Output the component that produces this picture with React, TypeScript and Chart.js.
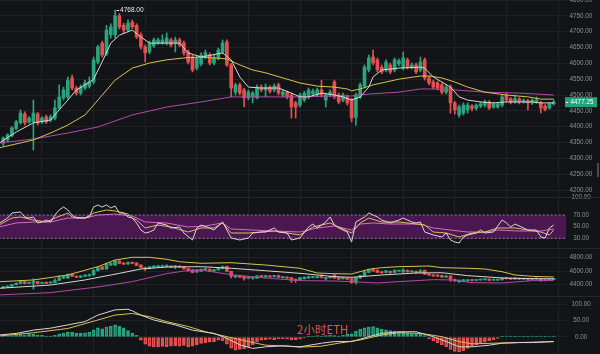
import { useEffect, useRef } from "react";
import { Chart, registerables } from "chart.js";

Chart.register(...registerables);

// ---------- DATA ----------
const opens = [4348,4358,4372,4394,4412,4440,4415,4415,4440,4415,4431,4421,4427,4459,4491,4494,4554,4522,4506,4522,4528,4541,4604,4664,4630,4690,4690,4750,4720,4705,4730,4720,4690,4652,4636,4655,4664,4664,4664,4674,4664,4674,4664,4636,4620,4585,4598,4620,4626,4601,4617,4636,4668,4595,4509,4532,4516,4491,4494,4491,4525,4516,4525,4516,4532,4500,4509,4500,4475,4468,4484,4494,4503,4500,4516,4484,4500,4541,4500,4484,4494,4484,4430,4494,4528,4579,4620,4611,4588,4579,4595,4579,4598,4585,4611,4588,4595,4579,4611,4554,4541,4538,4532,4509,4525,4475,4437,4443,4453,4465,4458,4465,4468,4478,4462,4462,4468,4500,4488,4478,4488,4478,4482,4475,4478,4475,4465,4459,4472];
const highs = [4368,4378,4400,4420,4453,4447,4432,4484,4445,4432,4437,4437,4484,4532,4525,4557,4563,4528,4532,4547,4557,4620,4658,4670,4720,4725,4768,4757,4727,4737,4737,4725,4696,4658,4670,4680,4680,4690,4696,4680,4683,4680,4670,4642,4626,4623,4633,4642,4633,4626,4648,4674,4674,4600,4538,4538,4522,4516,4512,4532,4532,4535,4530,4535,4538,4516,4512,4506,4480,4506,4512,4522,4519,4522,4547,4506,4516,4547,4506,4506,4500,4490,4506,4538,4595,4626,4642,4617,4595,4611,4601,4617,4614,4636,4617,4601,4601,4620,4617,4560,4547,4544,4538,4532,4532,4480,4468,4475,4475,4470,4472,4478,4484,4482,4476,4476,4500,4506,4492,4500,4492,4488,4486,4488,4494,4480,4470,4476,4484];
const lows = [4340,4352,4368,4390,4408,4405,4410,4326,4405,4410,4410,4415,4421,4453,4484,4488,4516,4500,4500,4516,4522,4535,4598,4620,4625,4680,4680,4708,4695,4700,4710,4678,4645,4604,4630,4650,4660,4660,4658,4652,4636,4652,4626,4598,4573,4579,4592,4614,4595,4595,4611,4630,4590,4494,4500,4500,4462,4485,4475,4488,4510,4494,4506,4510,4500,4494,4488,4427,4427,4462,4478,4488,4497,4494,4494,4462,4494,4488,4472,4478,4468,4415,4405,4488,4522,4573,4595,4573,4567,4573,4567,4573,4592,4579,4582,4582,4567,4573,4547,4532,4519,4516,4503,4503,4443,4440,4430,4437,4443,4450,4452,4460,4462,4454,4458,4458,4462,4478,4472,4474,4472,4474,4453,4470,4474,4443,4450,4455,4468];
const closes = [4364,4374,4396,4415,4443,4412,4427,4443,4412,4427,4415,4431,4459,4494,4516,4547,4522,4506,4525,4538,4541,4611,4652,4626,4705,4715,4750,4715,4705,4727,4715,4683,4652,4633,4664,4674,4674,4674,4680,4658,4674,4658,4633,4604,4579,4617,4626,4633,4601,4617,4642,4664,4595,4522,4532,4506,4491,4509,4506,4525,4516,4525,4512,4528,4506,4509,4494,4462,4462,4500,4506,4516,4512,4516,4500,4500,4509,4494,4478,4500,4475,4427,4500,4532,4588,4617,4601,4579,4573,4604,4573,4611,4608,4617,4588,4595,4573,4604,4554,4538,4525,4522,4509,4525,4475,4453,4462,4468,4468,4458,4468,4472,4478,4459,4472,4472,4494,4484,4478,4488,4478,4484,4475,4484,4484,4459,4455,4472,4477.25];

// moving averages on the price pane: [candle index, price]
const maFast = [[-1,4348],[3,4383],[7,4412],[11,4421],[13,4453],[15,4484],[17,4516],[19,4532],[21,4550],[23,4605],[25,4664],[27,4689],[30,4705],[32,4683],[34,4664],[38,4664],[41,4664],[43,4633],[46,4620],[51,4633],[53,4611],[55,4557],[57,4525],[60,4522],[64,4522],[67,4506],[69,4494],[71,4494],[74,4506],[77,4500],[79,4494],[81,4484],[83,4494],[85,4525],[86,4557],[88,4579],[92,4585],[97,4588],[98,4585],[100,4557],[102,4541],[104,4525],[106,4494],[108,4484],[111,4478],[114,4475],[117,4478],[120,4478],[123,4478],[125,4475],[128,4475]];
const maMid = [[-1,4333],[7,4358],[11,4380],[15,4405],[19,4437],[22,4484],[26,4547],[30,4585],[34,4601],[38,4611],[42,4617],[46,4620],[52,4614],[55,4595],[58,4579],[61,4570],[65,4554],[69,4538],[73,4528],[77,4525],[80,4519],[81,4513],[83,4519],[86,4532],[89,4541],[92,4550],[97,4560],[99,4560],[102,4554],[105,4541],[108,4525],[112,4509],[117,4500],[122,4494],[125,4487],[128,4487]];
const maSlow = [[-1,4348],[7,4361],[15,4380],[22,4399],[30,4437],[38,4462],[46,4478],[53,4494],[61,4494],[69,4494],[77,4497],[81,4497],[85,4503],[92,4509],[97,4519],[100,4519],[105,4516],[112,4509],[120,4506],[128,4500]];

// RSI pane
const rsiFast = [[-1,55.7],[1,64.8],[2,73.4],[4,75.2],[5,66.6],[6,64.8],[7,66.6],[8,56.3],[9,58],[10,61.4],[11,58],[12,70],[13,78.6],[14,83.7],[15,78.6],[16,70],[17,64.8],[19,64.8],[20,66.6],[21,83.7],[22,87.2],[23,83.7],[24,87.2],[25,82],[26,85.5],[27,73.4],[28,73.4],[29,66.6],[30,64.8],[31,56.3],[32,44.2],[33,39.1],[34,40.8],[35,44.2],[36,56.3],[38,52.8],[39,47.7],[41,49.4],[42,39.1],[44,27.1],[45,47.7],[46,52.8],[48,47.7],[49,44.2],[51,58],[52,44.2],[53,30.5],[55,27.1],[57,30.5],[58,39.1],[60,40.8],[61,40.8],[63,47.7],[64,40.8],[66,39.1],[67,27.1],[69,30.5],[71,49.4],[72,54.5],[73,47.7],[75,58],[76,66.6],[77,52.8],[78,47.7],[80,40.8],[81,23.6],[82,58],[84,66.6],[85,73.4],[87,66.6],[88,61.4],[90,56.3],[92,61.4],[93,64.8],[95,58],[96,56.3],[97,58],[98,40.8],[100,35.7],[102,32.2],[103,39.1],[104,27.1],[105,23.6],[106,21.9],[107,32.2],[108,35.7],[110,39.1],[111,44.2],[112,39.1],[114,40.8],[116,61.4],[117,56.3],[118,49.4],[119,54.5],[121,47.7],[122,44.2],[124,44.2],[125,32.2],[126,30.5],[127,47.7],[128,52.8]];
const rsiMid = [[-1,52.8],[2,64.8],[4,66.6],[7,61.4],[10,58],[12,64.8],[15,73.4],[16,66.6],[19,64.8],[21,73.4],[24,78.6],[26,76.9],[29,71.7],[30,64.8],[31,61.4],[33,47.7],[36,52.8],[39,49.4],[43,40.8],[46,47.7],[49,47.7],[51,56.3],[53,39.1],[57,39.1],[60,40.8],[63,42.5],[66,39.1],[69,35.7],[72,49.4],[76,56.3],[80,42.5],[81,39.1],[83,56.3],[85,64.8],[88,58],[92,58],[96,54.5],[98,52.8],[100,40.8],[103,39.1],[106,32.2],[109,39.1],[112,40.8],[115,47.7],[119,47.7],[122,44.2],[125,40.8],[127,35.7],[128,44.2]];
const rsiSlow = [[-1,49.4],[3,56.3],[7,58],[11,58],[15,64.8],[19,64.8],[22,70],[26,71.7],[30,68.3],[33,58],[38,56.3],[43,49.4],[47,51.1],[51,56.3],[53,46],[58,44.2],[63,42.5],[69,40.8],[73,47.7],[77,51.1],[81,44.2],[83,54.5],[86,56.3],[90,54.5],[95,54.5],[97,54.5],[100,47.7],[104,44.2],[108,40.8],[112,40.8],[115,44.2],[120,42.5],[125,42.5],[128,46]];
const rsiUpper = 70;
const rsiLower = 30;

// Bollinger pane
const bollUpper = [[-1,4439],[7,4465],[15,4540],[22,4665],[26,4765],[30,4806],[34,4806],[38,4776],[41,4740],[46,4716],[53,4725],[61,4690],[69,4641],[73,4570],[77,4560],[81,4555],[85,4626],[88,4650],[92,4665],[99,4675],[102,4650],[108,4641],[112,4630],[116,4589],[119,4540],[123,4520],[128,4510]];
const bollMid = [[-1,4340],[11,4389],[19,4465],[27,4565],[32,4630],[38,4660],[46,4665],[53,4641],[61,4604],[69,4565],[77,4515],[81,4505],[88,4540],[96,4570],[102,4574],[108,4530],[116,4495],[123,4485],[128,4483]];
const bollLower = [[-1,4240],[11,4275],[22,4360],[30,4440],[38,4560],[42,4600],[46,4614],[53,4545],[61,4495],[69,4455],[77,4450],[81,4440],[87,4420],[92,4440],[100,4470],[104,4465],[109,4425],[116,4420],[123,4455],[128,4458]];

// MACD pane
const macdDif = [[-1,6],[3,11],[7,21],[11,27],[15,37],[19,47],[22,67],[26,83],[29,85],[30,80],[32,67],[35,52],[40,37],[44,21],[49,11],[52,-4],[55,-24],[58,-35],[61,-30],[65,-27],[69,-30],[74,-19],[77,-14],[81,-14],[85,1],[88,11],[92,16],[96,16],[100,1],[103,-14],[106,-30],[109,-30],[113,-25],[116,-19],[120,-17],[123,-17],[128,-14]];
const macdDea = [[-1,3],[7,13],[15,26],[22,52],[26,67],[30,72],[34,62],[38,47],[43,32],[47,16],[52,1],[57,-14],[61,-25],[66,-28],[69,-31],[74,-28],[78,-19],[83,-9],[88,6],[92,13],[97,11],[102,1],[106,-14],[109,-21],[114,-19],[120,-17],[128,-14]];
const macdHist = [2,3,4,5,8,6,10,9,6,5,3,3,6,10,12,15,14,12,11,13,15,22,28,25,30,33,37,33,28,20,12,5,-10,-22,-28,-30,-30,-29,-30,-28,-27,-28,-26,-30,-28,-24,-20,-18,-16,-14,-10,-12,-22,-34,-40,-38,-36,-30,-24,-15,-10,-8,-7,-8,-6,-5,-7,-9,-8,-6,-3,2,3,4,3,4,5,4,3,5,8,10,18,24,28,30,32,28,24,22,20,18,15,14,12,10,9,8,4,-6,-12,-18,-24,-30,-38,-44,-46,-42,-35,-28,-24,-20,-16,-12,-8,-4,2,3,3,2,3,2,2,3,2,3,2,3,3];

// axis ticks
const yTicksMain = [4200,4250,4300,4350,4400,4450,4500,4550,4600,4650,4700,4750,4800];
const yTicksRsi = [30,50,70,100];
const yTicksBoll = [4400,4600,4800];
const yTicksMacd = [0,50,100];
const dayTicks = [9,21,33,45,57,69,81,93,105,117,129];
const peakIndex = 26;
const lastPrice = 4477.25;
const chartTitle = "2小时ETH";

// ---------- STYLE ----------
const BG = "#131418";
const GRID = "#1f2126";
const GREEN = "#29a57d";
const RED = "#e5504f";
const C_WHITE = "#d6d6d6";
const C_YELLOW = "#d8c250";
const C_PURPLE = "#b04aa6";
const C_PINK = "#d86ccb";
const BAND = "#4a1751";
const TICK = "#8c909a";
const FONT = "Liberation Sans";

const idx = opens.map((_, i) => i);
const candleColor = idx.map((i) => (closes[i] >= opens[i] ? GREEN : RED));
const pts = (arr: number[][]) => arr.map(([x, y]) => ({ x, y }));

const line = (data: number[][], color: string, yAxisID: string) => ({
  type: "line" as const,
  data: pts(data),
  borderColor: color,
  borderWidth: 1,
  pointRadius: 0,
  tension: 0,
  fill: false,
  yAxisID,
  order: 0,
});

const candleSets = (yAxisID: string, bodyWidth: number) => [
  {
    type: "bar" as const,
    data: idx.map((i) => ({ x: i, y: [lows[i], highs[i]] })),
    backgroundColor: candleColor,
    barThickness: 1,
    grouped: false,
    yAxisID,
    order: 2,
  },
  {
    type: "bar" as const,
    data: idx.map((i) => ({ x: i, y: [opens[i], closes[i]] })),
    backgroundColor: candleColor,
    barThickness: bodyWidth,
    minBarLength: 1,
    grouped: false,
    yAxisID,
    order: 1,
  },
];

const histColor = macdHist.map((v) => (v >= 0 ? GREEN : RED));
const histFill = macdHist.map((v, i) => {
  const prev = i > 0 ? macdHist[i - 1] : 0;
  return Math.abs(v) > Math.abs(prev) ? "rgba(0,0,0,0)" : histColor[i];
});

const yAxis = (
  weight: number,
  min: number,
  max: number,
  ticks: number[],
  pad: number
) => ({
  type: "linear" as const,
  position: "right" as const,
  stack: "panes",
  stackWeight: weight,
  min,
  max,
  border: { display: false },
  grid: { color: GRID, drawTicks: false, lineWidth: 1 },
  ticks: {
    color: TICK,
    font: { family: FONT, size: 6.3 },
    crossAlign: "center" as const,
    padding: pad,
    autoSkip: false,
    callback: (v: any) => Number(v).toFixed(2),
  },
  afterBuildTicks: (s: any) => {
    s.ticks = ticks.map((value) => ({ value }));
  },
  afterFit: (s: any) => {
    s.width = 34;
    s.paddingTop = 0;
    s.paddingBottom = 0;
  },
});

const overlay = {
  id: "overlay",
  beforeDraw(chart: any) {
    const { ctx, width, height } = chart;
    ctx.save();
    ctx.fillStyle = BG;
    ctx.fillRect(0, 0, width, height);
    ctx.restore();
  },
  afterDraw(chart: any) {
    const { ctx, chartArea, scales } = chart;
    ctx.save();
    // pane separators
    ctx.strokeStyle = "#26282e";
    ctx.lineWidth = 1;
    ["yr", "yb", "ym"].forEach((id) => {
      const t = Math.round(scales[id].top) + 0.5;
      ctx.beginPath();
      ctx.moveTo(chartArea.left, t);
      ctx.lineTo(chart.width, t);
      ctx.stroke();
    });
    // peak label
    const px = scales.x.getPixelForValue(peakIndex);
    const py = scales.y.getPixelForValue(highs[peakIndex]);
    ctx.strokeStyle = "#e8e8e8";
    ctx.beginPath();
    ctx.moveTo(px + 1.5, Math.round(py) + 0.5);
    ctx.lineTo(px + 4, Math.round(py) + 0.5);
    ctx.stroke();
    ctx.fillStyle = "#e8e8e8";
    ctx.font = `6.5px "${FONT}"`;
    ctx.textAlign = "left";
    ctx.textBaseline = "middle";
    ctx.fillText(highs[peakIndex].toFixed(2), px + 5, py);
    // last price badge
    const by = scales.y.getPixelForValue(lastPrice);
    const bx = chartArea.right - 1;
    ctx.fillStyle = "#22a47a";
    ctx.fillRect(bx, by - 5, 32, 10);
    ctx.fillStyle = "#ffffff";
    ctx.fillRect(bx + 1, Math.round(by), 2, 1);
    ctx.textAlign = "center";
    ctx.font = `6.3px "${FONT}"`;
    ctx.fillText(lastPrice.toFixed(2), bx + 17, by);
    // title text
    const mt = scales.ym;
    ctx.fillStyle = "#e2574f";
    ctx.font = `11.5px "Noto Sans CJK SC"`;
    ctx.textAlign = "left";
    ctx.fillText(chartTitle, chartArea.left + 297, mt.getPixelForValue(22));
    // scroll handle
    ctx.fillStyle = "#4a4c52";
    ctx.fillRect(chart.width - 3, 163, 2, 14);
    ctx.restore();
  },
};

export default function App() {
  const ref = useRef<HTMLCanvasElement>(null);
  useEffect(() => {
    const chart = new Chart(ref.current as HTMLCanvasElement, {
      type: "bar",
      data: {
        datasets: [
          line(maFast, C_WHITE, "y"),
          line(maMid, C_YELLOW, "y"),
          line(maSlow, C_PURPLE, "y"),
          ...candleSets("y", 3),
          {
            type: "line",
            data: [{ x: -2, y: rsiUpper }, { x: 132, y: rsiUpper }],
            borderColor: "rgba(190,160,195,0.7)",
            borderDash: [2, 2],
            borderWidth: 1,
            pointRadius: 0,
            backgroundColor: BAND,
            fill: { value: rsiLower },
            yAxisID: "yr",
            order: 5,
          },
          {
            type: "line",
            data: [{ x: -2, y: rsiLower }, { x: 132, y: rsiLower }],
            borderColor: "rgba(190,160,195,0.7)",
            borderDash: [2, 2],
            borderWidth: 1,
            pointRadius: 0,
            fill: false,
            yAxisID: "yr",
            order: 4,
          },
          line(rsiFast, C_WHITE, "yr"),
          line(rsiMid, C_YELLOW, "yr"),
          line(rsiSlow, C_PINK, "yr"),
          line(bollUpper, C_YELLOW, "yb"),
          line(bollMid, C_WHITE, "yb"),
          line(bollLower, C_PURPLE, "yb"),
          ...candleSets("yb", 3),
          line(macdDif, C_WHITE, "ym"),
          line(macdDea, C_YELLOW, "ym"),
          {
            type: "bar",
            data: idx.map((i) => ({ x: i, y: macdHist[i] })),
            backgroundColor: histFill,
            borderColor: histColor,
            borderWidth: 1,
            borderSkipped: false,
            barThickness: 3,
            grouped: false,
            yAxisID: "ym",
            order: 3,
          },
        ] as any,
      },
      options: {
        responsive: false,
        animation: false,
        devicePixelRatio: 1,
        layout: { padding: 0 },
        plugins: { legend: { display: false }, tooltip: { enabled: false } },
        events: [],
        scales: {
          x: {
            type: "linear",
            min: -0.767,
            max: 130.86,
            offset: false,
            border: { display: false },
            grid: { color: GRID, drawTicks: false, offset: false },
            ticks: { display: false },
            afterBuildTicks: (s: any) => {
              s.ticks = dayTicks.map((value) => ({ value }));
            },
            afterFit: (s: any) => {
              s.height = 0;
              s.paddingLeft = 0;
              s.paddingRight = 0;
            },
          },
          y: yAxis(197, 4177.9, 4800, yTicksMain, 3.6),
          yr: yAxis(51, 13.35, 100.9, yTicksRsi, 5.4),
          yb: yAxis(48, 4224, 4946, yTicksBoll, 3.6),
          ym: yAxis(58, -52, 125.4, yTicksMacd, 5.4),
        } as any,
      },
      plugins: [overlay],
    });
    return () => chart.destroy();
  }, []);
  return (
    <div style={{ position: "fixed", left: 0, top: 0, width: 600, height: 354, background: BG }}>
      <canvas ref={ref} width={600} height={354} style={{ display: "block", width: 600, height: 354 }} />
    </div>
  );
}
